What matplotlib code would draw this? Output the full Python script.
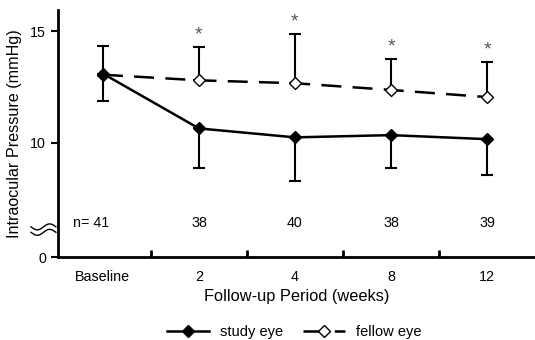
import numpy as np
import matplotlib.pyplot as plt

plt.rcParams['font.family'] = ['Liberation Sans', 'DejaVu Sans']

# データ
periods = ['Baseline', '2', '4', '8', '12']
n_counts = ['n= 41', '38', '40', '38', '39']
study_mean = [13.1, 10.65, 10.25, 10.35, 10.17]
study_sd = [1.22, 1.78, 1.95, 1.48, 1.62]
fellow_mean = [13.05, 12.8, 12.67, 12.37, 12.05]
fellow_sd = [1.27, 1.47, 2.18, 1.37, 1.55]
significant = [False, True, True, True, True]

x = np.arange(len(periods))

fig = plt.figure(figsize=(5.35, 3.4), dpi=100)
ax = fig.add_axes([0.108, 0.244, 0.892, 0.727])

# study eye: 誤差は下向き, fellow eye: 上向き
ax.errorbar(x, study_mean, yerr=[study_sd, [0] * len(x)], fmt='none',
            ecolor='black', elinewidth=1.5, capsize=4, capthick=1.5, zorder=2)
ax.errorbar(x, fellow_mean, yerr=[[0] * len(x), fellow_sd], fmt='none',
            ecolor='black', elinewidth=1.5, capsize=4, capthick=1.5, zorder=2)

ax.plot(x, fellow_mean, color='black', lw=1.8, dashes=(8, 4.5),
        marker='D', markersize=6.5, markerfacecolor='white',
        markeredgecolor='black', markeredgewidth=1.0, label='fellow eye', zorder=3)
ax.plot(x, study_mean, color='black', lw=1.8,
        marker='D', markersize=6.5, markerfacecolor='black',
        markeredgecolor='black', label='study eye', zorder=4)

# 有意差マーク
for xi, m, s, sig in zip(x, fellow_mean, fellow_sd, significant):
    if sig:
        ax.annotate('*', (xi, m + s), xytext=(0, 3), textcoords='offset points',
                    ha='center', va='bottom', fontsize=14, color='#555555')

# n数
for xi, lab in zip(x, n_counts):
    ax.text(xi - (0.12 if lab.startswith('n') else 0), 6.4, lab,
            ha='center', va='center', fontsize=10.3)

ax.set_xlim(-0.47, 4.5)
ax.set_ylim(4.9, 15.95)
ax.set_yticks([4.9, 10, 15])
ax.set_yticklabels(['0', '10', '15'], fontsize=10.3)
ax.set_xticks(x)
ax.set_xticklabels(periods, fontsize=10.3)
ax.set_xticks(x[:-1] + 0.5, minor=True)
ax.tick_params(axis='x', which='major', length=0, pad=9)
ax.tick_params(axis='x', which='minor', direction='in', length=5, width=2)
ax.tick_params(axis='y', direction='out', length=5, width=1.5)

for side in ['top', 'right']:
    ax.spines[side].set_visible(False)
for side in ['left', 'bottom']:
    ax.spines[side].set_linewidth(2)

ax.set_xlabel('Follow-up Period (weeks)', fontsize=11.8, labelpad=4)
ax.set_ylabel('Intraocular Pressure (mmHg)', fontsize=11.6, labelpad=6)

# 軸の省略記号
t = np.linspace(-1, 1, 40)
for dy in (0.0, 0.022):
    ax.plot(-0.03 + 0.026 * t, 0.1 + dy + 0.012 * np.sin(np.pi * t),
            transform=ax.transAxes, color='black', lw=1.0, clip_on=False, zorder=5)

handles, labels = ax.get_legend_handles_labels()
fig.legend(handles[::-1], labels[::-1], loc='lower center', ncol=2, frameon=False,
           fontsize=10.5, bbox_to_anchor=(0.55, -0.035), handlelength=2.9,
           handletextpad=0.8, columnspacing=1.3)

fig.savefig('out.png', dpi=100)
